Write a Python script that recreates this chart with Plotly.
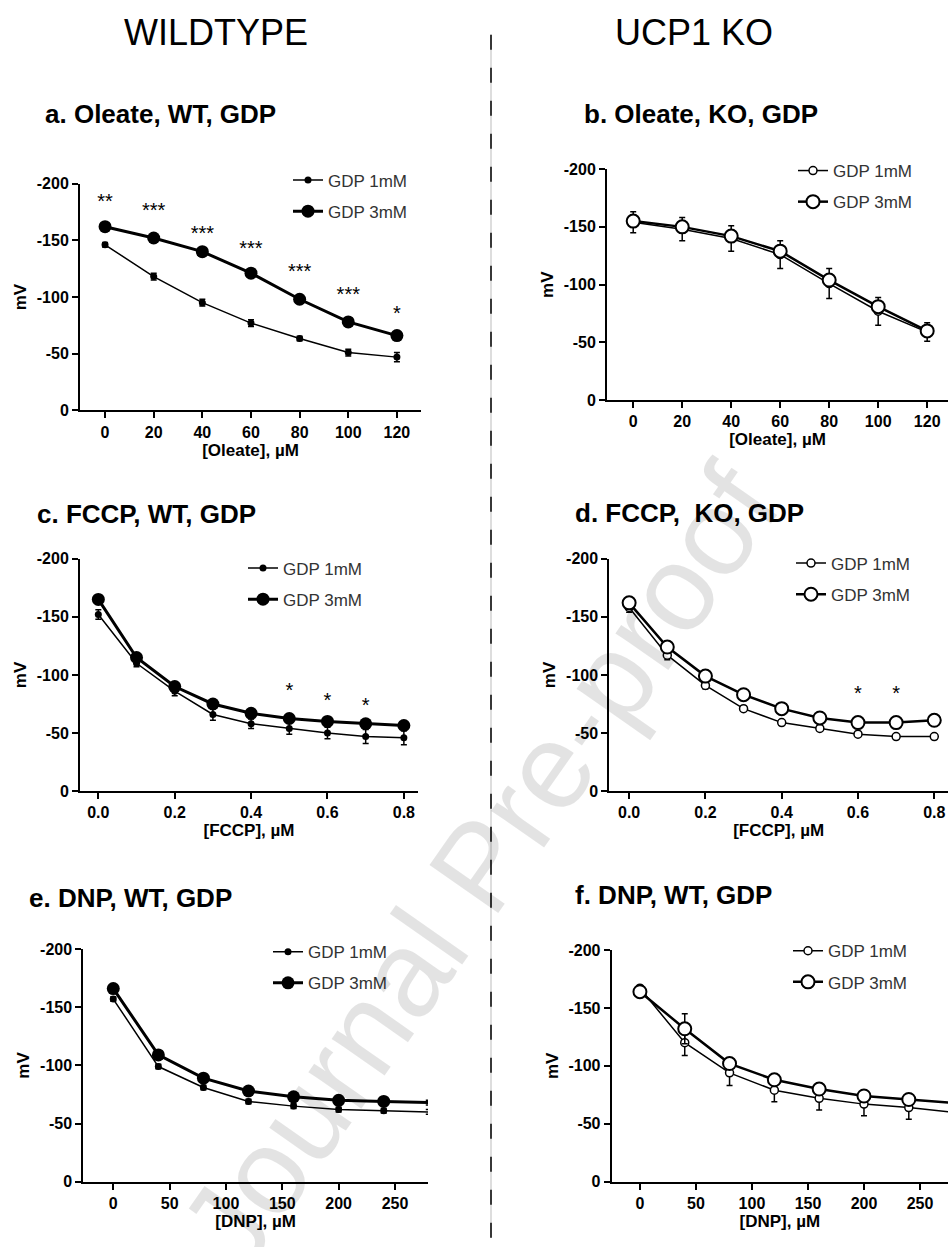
import plotly.graph_objects as go

W, H = 949, 1247
FONT = "Liberation Sans, Arial, Helvetica, sans-serif"

# ---------------- data ----------------
oleate_uM = [0, 20, 40, 60, 80, 100, 120]
fccp_uM = [0.0, 0.1, 0.2, 0.3, 0.4, 0.5, 0.6, 0.7, 0.8]
dnp_uM = [0, 40, 80, 120, 160, 200, 240, 280]

# a. Oleate, WT
a_gdp1 = [-146, -118, -95, -77, -63.5, -51, -47]
a_gdp1_err = [2, 3, 3, 3, 2, 3, 4]
a_gdp3 = [-162, -152, -140, -121, -98, -78, -66]
a_gdp3_err = [2, 2, 2, 2, 2, 2, 2]
a_star_x = [0, 20, 40, 60, 80, 100, 120]
a_star_y = [-183, -175, -155, -141, -121, -101, -84]
a_star_txt = ["**", "***", "***", "***", "***", "***", "*"]

# b. Oleate, KO
b_gdp1 = [-154, -148, -140, -126, -101, -77, -59]
b_gdp1_err = [9, 10, 11, 12, 13, 12, 8]
b_gdp3 = [-155, -150, -142, -129, -104, -81, -60]
b_gdp3_err = [5, 5, 5, 5, 5, 5, 4]

# c. FCCP, WT
c_gdp1 = [-152, -110, -86, -66, -58, -54, -50, -47, -46]
c_gdp1_err = [4, 3, 4, 5, 4, 5, 5, 6, 6]
c_gdp3 = [-165, -115, -90, -75, -67, -62.5, -60, -58, -56.5]
c_gdp3_err = [2, 2, 2, 2, 2, 2, 2, 2, 2]
c_star_x = [0.5, 0.6, 0.7]
c_star_y = [-85, -77, -72]
c_star_txt = ["*", "*", "*"]

# d. FCCP, KO
d_gdp1 = [-158, -117, -91, -71, -59, -54, -49, -47, -47]
d_gdp1_err = [4, 4, 3, 2, 2, 2, 2, 2, 2]
d_gdp3 = [-162, -124, -99, -83, -71, -63, -59, -59, -61]
d_gdp3_err = [2, 2, 2, 2, 2, 2, 2, 2, 2]
d_star_x = [0.6, 0.7]
d_star_y = [-83, -83]
d_star_txt = ["*", "*"]

# e. DNP, WT
e_gdp1 = [-157, -99, -81, -69, -65, -62, -61, -60]
e_gdp1_err = [2, 2, 2, 2, 2, 2, 2, 2]
e_gdp3 = [-166, -109, -89, -78, -73, -70, -69, -68]
e_gdp3_err = [2, 2, 2, 2, 2, 2, 2, 2]

# f. DNP (KO side)
f_gdp1 = [-167, -120, -94, -79, -72, -67, -64, -60]
f_gdp1_err = [2, 11, 11, 10, 10, 10, 10, 10]
f_gdp3 = [-164, -132, -102, -88, -80, -74, -71, -68]
f_gdp3_err = [2, 13, 5, 5, 5, 3, 3, 3]

series_names = ["GDP 1mM", "GDP 3mM"]
y_tickvals = [0, -50, -100, -150, -200]
y_ticktext = ["0", "-50", "-100", "-150", "-200"]
oleate_ticks = [0, 20, 40, 60, 80, 100, 120]
fccp_ticks = [0.0, 0.2, 0.4, 0.6, 0.8]
fccp_ticktext = ["0.0", "0.2", "0.4", "0.6", "0.8"]
dnp_ticks = [0, 50, 100, 150, 200, 250]


def px(x):
    return x / W


def py(y):
    return 1 - y / H


panels = [
    dict(n=1, title="a. Oleate, WT, GDP", tpos=(43, 107), x=oleate_uM,
         g1=a_gdp1, e1=a_gdp1_err, g3=a_gdp3, e3=a_gdp3_err, ko=False,
         stars=(a_star_x, a_star_y, a_star_txt), xtitle="[Oleate], µM",
         xt=oleate_ticks, xtt=[str(v) for v in oleate_ticks],
         xpix=(80, 421), ypix=(178, 408), xr=[-10.3, 129.9], leg=(330, 172.7)),
    dict(n=2, title="b. Oleate, KO, GDP", tpos=(582, 107), x=oleate_uM,
         g1=b_gdp1, e1=b_gdp1_err, g3=b_gdp3, e3=b_gdp3_err, ko=True,
         stars=None, xtitle="[Oleate], µM",
         xt=oleate_ticks, xtt=[str(v) for v in oleate_ticks],
         xpix=(607, 948), ypix=(163.3, 397.7), xr=[-10.7, 128.5], leg=(835, 163)),
    dict(n=3, title="c. FCCP, WT, GDP", tpos=(35, 513), x=fccp_uM,
         g1=c_gdp1, e1=c_gdp1_err, g3=c_gdp3, e3=c_gdp3_err, ko=False,
         stars=(c_star_x, c_star_y, c_star_txt), xtitle="[FCCP], µM",
         xt=fccp_ticks, xtt=fccp_ticktext,
         xpix=(80, 418), ypix=(558.3, 794), xr=[-0.048, 0.837], leg=(285, 566)),
    dict(n=4, title="d. FCCP,  KO, GDP", tpos=(573, 512), x=fccp_uM,
         g1=d_gdp1, e1=d_gdp1_err, g3=d_gdp3, e3=d_gdp3_err, ko=True,
         stars=(d_star_x, d_star_y, d_star_txt), xtitle="[FCCP], µM",
         xt=fccp_ticks, xtt=fccp_ticktext,
         xpix=(609.3, 948), ypix=(558.3, 794), xr=[-0.052, 0.836], leg=(833, 561)),
    dict(n=5, title="e. DNP, WT, GDP", tpos=(27, 902), x=dnp_uM,
         g1=e_gdp1, e1=e_gdp1_err, g3=e_gdp3, e3=e_gdp3_err, ko=False,
         stars=None, xtitle="[DNP], µM",
         xt=dnp_ticks, xtt=[str(v) for v in dnp_ticks],
         xpix=(83.3, 428), ypix=(954, 1190), xr=[-26.6, 279.3], leg=(310, 955)),
    dict(n=6, title="f. DNP, WT, GDP", tpos=(573, 899), x=dnp_uM,
         g1=f_gdp1, e1=f_gdp1_err, g3=f_gdp3, e3=f_gdp3_err, ko=True,
         stars=None, xtitle="[DNP], µM",
         xt=dnp_ticks, xtt=[str(v) for v in dnp_ticks],
         xpix=(611.7, 948), ypix=(955, 1190), xr=[-25.2, 275], leg=(830, 954)),
]

fig = go.Figure()
annotations = []
layout_extra = {}

for p in panels:
    n = p["n"]
    sfx = "" if n == 1 else str(n)
    xa, ya = "x" + sfx, "y" + sfx
    lg = "legend" + sfx
    ko = p["ko"]
    styles = [
        dict(lw=1.5, ms=7 if not ko else 8, mlw=1.5),
        dict(lw=3 if not ko else 2.5, ms=13, mlw=2),
    ]
    for i, (yv, ev) in enumerate([(p["g1"], p["e1"]), (p["g3"], p["e3"])]):
        st = styles[i]
        fig.add_trace(go.Scatter(
            x=p["x"], y=yv, mode="lines+markers", name=series_names[i],
            xaxis=xa, yaxis=ya, legend=lg, legendgroup=f"{n}-{i}",
            cliponaxis=False,
            line=dict(color="black", width=st["lw"]),
            marker=dict(symbol="circle", size=st["ms"],
                        color="white" if ko else "black",
                        line=dict(color="black", width=st["mlw"] if ko else 0)),
            error_y=dict(type="data", array=ev, color="black", thickness=1.5, width=3),
        ))
    if p["stars"] is not None:
        sx, sy, stxt = p["stars"]
        fig.add_trace(go.Scatter(
            x=sx, y=sy, text=stxt, mode="text", xaxis=xa, yaxis=ya,
            showlegend=False, cliponaxis=False,
            textfont=dict(family=FONT, size=20, color="black"),
        ))

    axis_common = dict(showgrid=False, zeroline=False, showline=True,
                       linecolor="black", linewidth=2, ticks="outside",
                       ticklen=6, tickwidth=2, tickcolor="black",
                       tickfont=dict(family=FONT, size=16, color="black", weight="bold"))
    layout_extra["xaxis" + sfx] = dict(
        axis_common, domain=[px(p["xpix"][0]), px(p["xpix"][1])],
        range=p["xr"], anchor=ya, tickvals=p["xt"], ticktext=p["xtt"],
        title=dict(text=p["xtitle"], standoff=4,
                   font=dict(family=FONT, size=17, color="black", weight="bold")))
    layout_extra["yaxis" + sfx] = dict(
        axis_common, domain=[py(p["ypix"][1]), py(p["ypix"][0])],
        range=[0, -200], anchor=xa, tickvals=y_tickvals, ticktext=y_ticktext,
        title=dict(text="mV", standoff=6,
                   font=dict(family=FONT, size=17, color="black", weight="bold")))
    layout_extra[lg] = dict(
        x=px(p["leg"][0] - 42), y=py(p["leg"][1] - 16), xanchor="left", yanchor="top",
        bgcolor="rgba(0,0,0,0)", font=dict(family=FONT, size=17, color="#333"),
        tracegroupgap=6, traceorder="grouped", itemsizing="trace")
    annotations.append(dict(
        text=p["title"], x=px(p["tpos"][0]), y=py(p["tpos"][1]),
        xref="paper", yref="paper", xanchor="left", yanchor="middle",
        showarrow=False, font=dict(family=FONT, size=26, color="black", weight="bold")))

# column headers
annotations.append(dict(text="WILDTYPE", x=px(216), y=py(25), xref="paper", yref="paper",
                        xanchor="center", yanchor="middle", showarrow=False,
                        font=dict(family=FONT, size=36, color="black")))
annotations.append(dict(text="UCP1 KO", x=px(694), y=py(25), xref="paper", yref="paper",
                        xanchor="center", yanchor="middle", showarrow=False,
                        font=dict(family=FONT, size=36, color="black")))
# watermark
annotations.append(dict(text="Journal Pre-proof", x=px(480), y=py(870), xref="paper",
                        yref="paper", xanchor="center", yanchor="middle", showarrow=False,
                        textangle=-55,
                        font=dict(family=FONT, size=122, color="rgba(0,0,0,0.11)")))

shapes = [
    dict(type="line", xref="paper", yref="paper", x0=px(491), x1=px(491),
         y0=py(27), y1=0, line=dict(color="#bbbbbb", width=1)),
    dict(type="line", xref="paper", yref="paper", x0=px(491), x1=px(491),
         y0=py(27), y1=0, line=dict(color="black", width=1.5, dash="15px,18px")),
]

fig.update_layout(
    width=W, height=H, margin=dict(l=0, r=0, t=0, b=0),
    paper_bgcolor="white", plot_bgcolor="white",
    font=dict(family=FONT, color="black"),
    annotations=annotations, shapes=shapes,
    **layout_extra,
)

fig.write_html(
    "out.html",
    config={"displayModeBar": False},
    post_script="document.body.style.margin='0';document.body.style.overflow='hidden';",
)
